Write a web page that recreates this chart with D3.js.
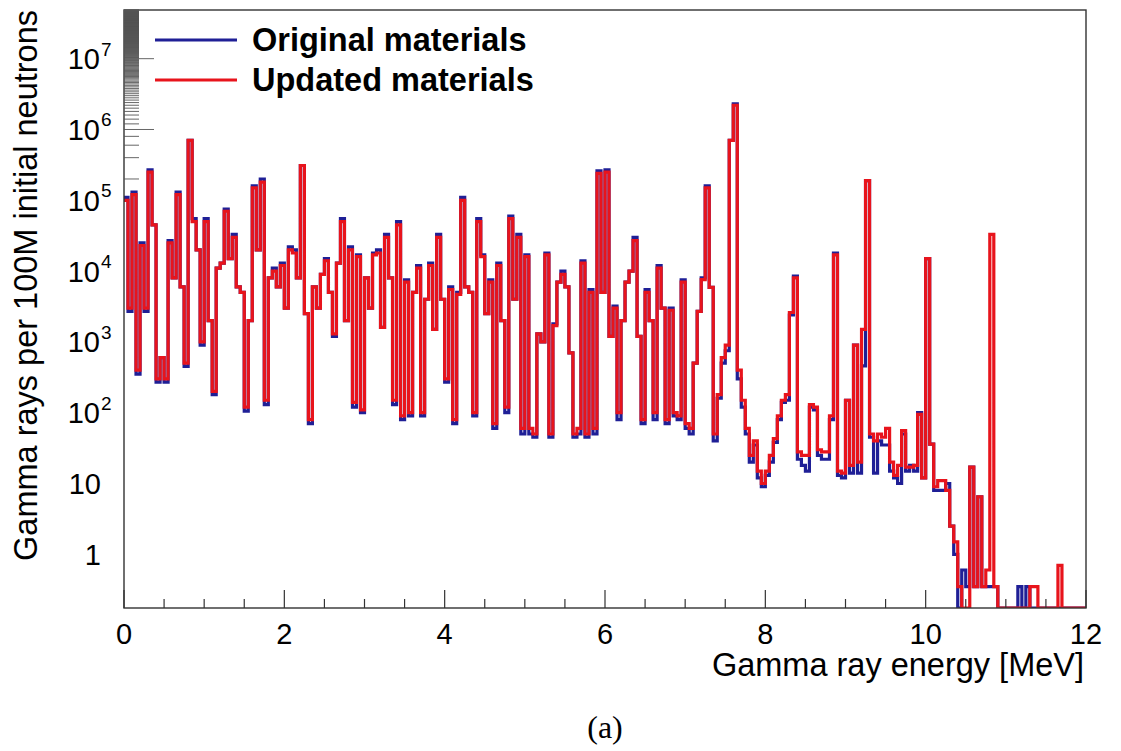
<!DOCTYPE html>
<html>
<head>
<meta charset="utf-8">
<script src="https://cdn.jsdelivr.net/npm/d3@7/dist/d3.min.js"></script>
<style>
    html, body { margin: 0; padding: 0; background: #fff; }
    #chart { width: 1121px; height: 751px; }
    text { font-family: "Liberation Sans", Arial, Helvetica, sans-serif; fill: #000; }
</style>
</head>
<body>
<div id="chart"></div>
<script>
// Histogram binning in MeV
const binWidth = 0.05;
const seriesNames = ['Original materials', 'Updated materials'];
const seriesColors = ['#1f1f96', '#e8141c'];

// Gamma rays per 100M initial neutrons, one value per 0.05 MeV bin (one row = 1 MeV)
const originalCounts = [
    1.1e5, 2.7e3, 1.3e5, 3.5e2, 2.5e4, 2.7e3, 2.7e5, 4.5e4, 2.7e2, 6e2, 2.7e2, 2.7e4, 8e3, 1.3e5, 6e3, 4.5e2, 7e5, 5.5e4, 2e4, 9e2,
    5.5e4, 2e3, 1.8e2, 1.1e4, 1.3e4, 7.5e4, 1.5e4, 3.3e4, 6e3, 5e3, 1.05e2, 2e3, 1.6e5, 2e4, 2e5, 1.3e2, 8e3, 1.1e4, 6e3, 1.3e4,
    3e3, 2.2e4, 2e4, 8e3, 3.1e5, 2.5e3, 7e1, 6e3, 3e3, 9e3, 1.5e4, 5e3, 1.2e3, 1.3e4, 5.5e4, 2e3, 2.2e4, 1.2e2, 1.7e4, 1e2,
    8e3, 3e3, 1.8e4, 2e4, 1.6e3, 3.3e4, 8e3, 1.3e2, 5e4, 8e1, 7.5e3, 9e1, 5e3, 1.2e4, 9e1, 4e3, 1.3e4, 1.5e3, 3.3e4, 4e3,
    2.7e2, 6e3, 7e1, 5e3, 1.1e5, 6e3, 5e3, 9e1, 5.5e4, 1.7e4, 2.5e3, 7.5e3, 6e1, 1.3e4, 2e3, 1e2, 6e4, 4e3, 3.3e4, 5e1,
    1.7e4, 5e1, 4.5e1, 1.3e3, 1e3, 1.8e4, 4.5e1, 1.8e3, 7e3, 1e4, 6e3, 7e2, 4.5e1, 5e1, 1.4e4, 4.5e1, 5.5e3, 5e1, 2.6e5, 5e3,
    2.7e5, 1.2e3, 3.2e3, 8e1, 2e3, 7e3, 1e4, 3e4, 1.2e3, 7e1, 5.5e3, 2e3, 8e1, 1.2e4, 3e3, 7e1, 3e3, 9e1, 8e1, 7.5e3,
    6e1, 5e1, 5e2, 2.7e3, 8e3, 1.6e5, 5.9e3, 4e1, 1.6e2, 5e2, 7.5e2, 7e5, 2.3e6, 3e2, 1.2e2, 5e1, 2e1, 3.5e1, 1.2e1, 9,
    13, 20, 38, 80, 140, 150, 2.4e3, 8.5e3, 22, 18, 15, 120, 110, 25, 22, 22, 80, 1.8e4, 13, 12,
    150, 14, 900, 14, 460, 1.9e5, 45, 14, 40, 35, 35, 15, 12, 10, 50, 15, 18, 15, 100, 12,
    1.5e4, 36, 8, 8, 8, 10, 2.5, 1, 0, 0.6, 0.35, 17, 0.35, 6.5, 0.35, 0.35, 0.35, 0.35, 0, 0,
    0, 0, 0, 0.35, 0, 0.35, 0, 0, 0, 0, 0, 0, 0, 0, 0, 0, 0, 0, 0, 0
];

const updatedCounts = [
    1e5, 3e3, 1.2e5, 4e2, 2.3e4, 3e3, 2.5e5, 4.5e4, 3e2, 6e2, 3e2, 2.5e4, 8e3, 1.2e5, 6e3, 5e2, 7e5, 5e4, 2e4, 1e3,
    5e4, 2e3, 2e2, 1.1e4, 1.3e4, 7e4, 1.5e4, 3e4, 6e3, 5e3, 1.2e2, 2e3, 1.5e5, 2e4, 1.8e5, 1.5e2, 8e3, 1e4, 6e3, 1.2e4,
    3e3, 2e4, 1.8e4, 8e3, 3.1e5, 2.5e3, 8e1, 6e3, 3e3, 9e3, 1.4e4, 5e3, 1.3e3, 1.3e4, 5e4, 2e3, 2e4, 1.4e2, 1.6e4, 1.1e2,
    8e3, 3e3, 1.7e4, 1.8e4, 1.6e3, 3e4, 8e3, 1.5e2, 4.5e4, 9e1, 7e3, 1e2, 5e3, 1.1e4, 1e2, 4e3, 1.2e4, 1.5e3, 3e4, 4e3,
    3e2, 5.5e3, 8e1, 4.7e3, 1e5, 6e3, 5e3, 1e2, 5e4, 1.6e4, 2.5e3, 7e3, 7e1, 1.2e4, 2e3, 1.2e2, 5.5e4, 4e3, 3e4, 6e1,
    1.6e4, 6e1, 5e1, 1.3e3, 1e3, 1.7e4, 5e1, 1.7e3, 7e3, 9e3, 6e3, 7e2, 5e1, 6e1, 1.3e4, 5e1, 5e3, 6e1, 2.4e5, 5e3,
    2.5e5, 1.2e3, 3e3, 1e2, 2e3, 7e3, 1e4, 2.7e4, 1.2e3, 8e1, 5e3, 2e3, 1e2, 1.1e4, 3e3, 8e1, 2.8e3, 1e2, 9e1, 7e3,
    7e1, 6e1, 5e2, 2.7e3, 7.6e3, 1.5e5, 5.9e3, 5e1, 1.8e2, 6e2, 9e2, 7e5, 2.2e6, 4e2, 1.5e2, 6e1, 2.5e1, 4e1, 1.5e1, 1e1,
    15, 25, 43, 90, 150, 180, 2.6e3, 8e3, 28, 25, 25, 130, 120, 30, 28, 28, 90, 1.7e4, 15, 14,
    150, 18, 900, 20, 1.5e3, 1.9e5, 50, 40, 50, 45, 60, 20, 13, 18, 56, 17, 17, 18, 95, 12,
    1.5e4, 36, 9, 11, 11, 8, 2.5, 1.5, 0.35, 0, 0, 17, 0.35, 6.5, 0.35, 0.6, 3.3e4, 0.35, 0, 0,
    0, 0, 0, 0, 0, 0, 0.35, 0.35, 0, 0, 0, 0, 0, 0.7, 0, 0, 0, 0, 0, 0
];

// Axes
const xDomain = [0, 12];
const yDomain = [0.1745, 4.87e7];
const xTickValues = [0, 2, 4, 6, 8, 10, 12];
const xMinorStep = 0.5;
const yTickDecades = [0, 1, 2, 3, 4, 5, 6, 7];
const xTitle = 'Gamma ray energy [MeV]';
const yTitle = 'Gamma rays per 100M initial neutrons';
const caption = '(a)';

class SpectrumChart {
    constructor(elementId, options = {}) {
        this.elementId = elementId;
        this.options = {
            width: 1121,
            height: 751,
            frame: { left: 124, right: 1086, top: 10, bottom: 608 },
            lineWidth: 3.2,
            ...options
        };
        this.svg = null;
    }

    init() {
        const container = document.getElementById(this.elementId);
        if (!container) return;
        container.innerHTML = '';

        const { width, height, frame } = this.options;

        this.svg = d3.select(container)
            .append('svg')
            .attr('width', width)
            .attr('height', height);

        this.svg.append('rect')
            .attr('width', width)
            .attr('height', height)
            .attr('fill', '#fff');

        const x = d3.scaleLinear().domain(xDomain).range([frame.left, frame.right]);
        const y = d3.scaleLog().domain(yDomain).range([frame.bottom, frame.top]);

        this.svg.append('clipPath')
            .attr('id', 'plot-clip')
            .append('rect')
            .attr('x', frame.left)
            .attr('y', frame.top)
            .attr('width', frame.right - frame.left)
            .attr('height', frame.bottom - frame.top);

        // Step outline like a ROOT histogram; empty bins sit on the bottom edge
        const stepLine = d3.line()
            .x(d => x(d[0]))
            .y(d => y(d[1] > yDomain[0] ? d[1] : yDomain[0]))
            .curve(d3.curveStepAfter);

        const toPoints = counts => {
            const pts = counts.map((v, i) => [i * binWidth, v]);
            pts.push([counts.length * binWidth, counts[counts.length - 1]]);
            return pts;
        };

        const plot = this.svg.append('g').attr('clip-path', 'url(#plot-clip)');
        [originalCounts, updatedCounts].forEach((counts, i) => {
            plot.append('path')
                .attr('d', stepLine(toPoints(counts)))
                .attr('fill', 'none')
                .attr('stroke', seriesColors[i])
                .attr('stroke-width', this.options.lineWidth)
                .attr('stroke-linejoin', 'miter');
        });

        const axisColor = '#333';

        // Frame
        this.svg.append('rect')
            .attr('x', frame.left)
            .attr('y', frame.top)
            .attr('width', frame.right - frame.left)
            .attr('height', frame.bottom - frame.top)
            .attr('fill', 'none')
            .attr('stroke', axisColor)
            .attr('stroke-width', 1.4);

        // X ticks
        const xTicks = d3.range(xDomain[0], xDomain[1] + 1e-9, xMinorStep);
        this.svg.append('g').selectAll('line')
            .data(xTicks)
            .enter()
            .append('line')
            .attr('x1', d => x(d))
            .attr('x2', d => x(d))
            .attr('y1', frame.bottom)
            .attr('y2', d => frame.bottom - (xTickValues.includes(d) ? 18 : 9))
            .attr('stroke', axisColor)
            .attr('stroke-width', 1.2);

        this.svg.append('g').selectAll('text')
            .data(xTickValues)
            .enter()
            .append('text')
            .attr('x', d => x(d))
            .attr('y', 644)
            .attr('text-anchor', 'middle')
            .style('font-size', '29px')
            .text(d => d);

        // Y ticks (log): decades long, 2..9 short
        const yTicks = y.ticks(200);
        this.svg.append('g').selectAll('line')
            .data(yTicks)
            .enter()
            .append('line')
            .attr('x1', frame.left)
            .attr('x2', d => {
                const major = Math.abs(Math.log10(d) - Math.round(Math.log10(d))) < 1e-6;
                return frame.left + (major ? 30 : 15);
            })
            .attr('y1', d => y(d))
            .attr('y2', d => y(d))
            .attr('stroke', '#555')
            .attr('stroke-width', 0.9);

        const yLabels = this.svg.append('g');
        yTickDecades.forEach(k => {
            const ty = y(Math.pow(10, k));
            if (k < 2) {
                yLabels.append('text')
                    .attr('x', 101)
                    .attr('y', ty + 10.5)
                    .attr('text-anchor', 'end')
                    .style('font-size', '29px')
                    .text(k === 0 ? '1' : '10');
            } else {
                yLabels.append('text')
                    .attr('x', 100)
                    .attr('y', ty + 10.5)
                    .attr('text-anchor', 'end')
                    .style('font-size', '29px')
                    .text('10');
                yLabels.append('text')
                    .attr('x', 101)
                    .attr('y', ty - 3)
                    .attr('text-anchor', 'start')
                    .style('font-size', '19px')
                    .text(k);
            }
        });

        // Axis titles
        this.svg.append('text')
            .attr('x', 1084)
            .attr('y', 676)
            .attr('text-anchor', 'end')
            .style('font-size', '32.5px')
            .text(xTitle);

        this.svg.append('text')
            .attr('transform', 'translate(37,10) rotate(-90)')
            .attr('text-anchor', 'end')
            .style('font-size', '32.5px')
            .text(yTitle);

        // Legend
        const legend = this.svg.append('g');
        seriesNames.forEach((name, i) => {
            const ly = 40 + i * 40;
            legend.append('line')
                .attr('x1', 155)
                .attr('x2', 237)
                .attr('y1', ly)
                .attr('y2', ly)
                .attr('stroke', seriesColors[i])
                .attr('stroke-width', this.options.lineWidth);
            legend.append('text')
                .attr('x', 252)
                .attr('y', ly + 11)
                .style('font-size', '32.5px')
                .style('font-weight', 'bold')
                .text(name);
        });

        // Sub-figure caption
        this.svg.append('text')
            .attr('x', 605)
            .attr('y', 738)
            .attr('text-anchor', 'middle')
            .style('font-family', '"Liberation Serif", "DejaVu Serif", serif')
            .style('font-size', '32px')
            .text(caption);
    }
}

const chart = new SpectrumChart('chart');
chart.init();
</script>
</body>
</html>
